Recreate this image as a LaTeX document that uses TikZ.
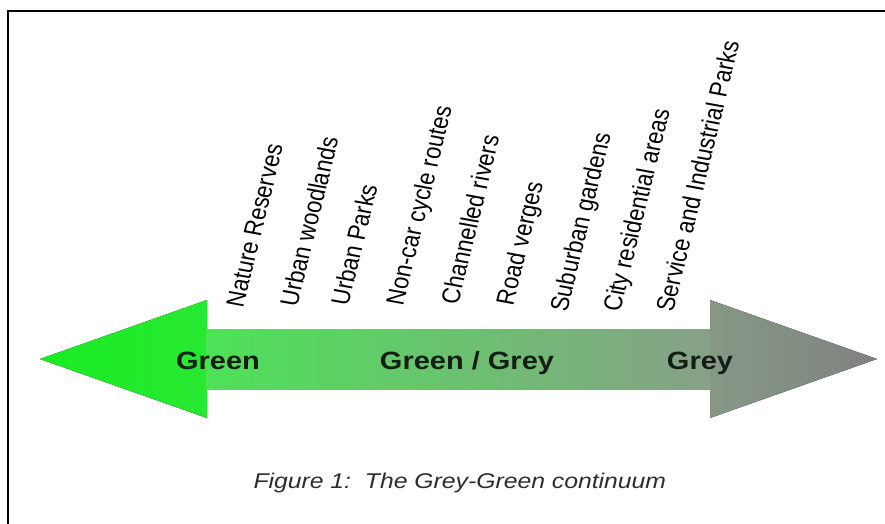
\documentclass[tikz,border=0pt]{standalone}
\usepackage{fontspec}
\setmainfont{Liberation Sans}
\newfontfamily\widefont[FakeStretch=1.16]{Liberation Sans}
\definecolor{headgreen}{RGB}{25,236,35}
\definecolor{headgreenb}{RGB}{40,232,50}
\definecolor{shaftgreen}{RGB}{78,226,88}
\definecolor{shaftmid}{RGB}{86,216,96}
\definecolor{shaftgrey}{RGB}{136,160,136}
\definecolor{tipgreyA}{RGB}{134,152,134}
\definecolor{tipgreyB}{RGB}{128,130,128}
\definecolor{captiongrey}{RGB}{45,45,45}

\tikzset{every picture/.style={line width=0.75pt}}
\tikzset{
  endlabel/.style={anchor=base, inner sep=0pt, text={rgb,255:red,20;green,30;blue,20},
    font=\widefont\bfseries\fontsize{18.75}{22}\selectfont},
  placelabel/.style={xscale=1.16, rotate=78, anchor=base west, inner sep=0pt,
    font=\fontsize{16.6}{19}\selectfont},
  captionlabel/.style={anchor=base west, inner sep=0pt, text=captiongrey,
    font=\widefont\itshape\fontsize{16}{19}\selectfont}
}

\begin{document}
\begin{tikzpicture}[x=0.75pt,y=0.75pt,yscale=-1,xscale=1]
\useasboundingbox (0,0) rectangle (885,524);

%Frame
\draw [line width=1.5]  (8,524) -- (8,11) -- (885,11) ;

%Arrow: left head
\fill [left color=headgreen, right color=headgreenb] (40,359) -- (207,300) -- (207,418) -- cycle ;
%Arrow: shaft
\fill [left color=shaftgreen, middle color=shaftmid, right color=shaftgrey] (206,329) rectangle (711,389) ;
%Arrow: right head
\fill [left color=tipgreyA, right color=tipgreyB] (710,300) -- (877,359) -- (710,418) -- cycle ;

% Text Node
\node (green) [endlabel] at (218,369) {Green};
% Text Node
\node (greengrey) [endlabel] at (467,369) {Green / Grey};
% Text Node
\node (grey) [endlabel] at (700,369) {Grey};

% Places along the continuum
\foreach \px/\py/\txt [count=\i] in {243/309/Nature Reserves, 297/308/Urban woodlands,
    348/307/Urban Parks, 403/307/Non-car cycle routes, 458/306/Channelled rivers,
    513/307/Road verges, 567/313/Suburban gardens, 620/313/City residential areas,
    673/313/Service and Industrial Parks}
  \node (place\i) [placelabel] at (\px,\py) {\txt};

% Text Node
\node (caption) [captionlabel] at (253,488) {Figure 1:\ \ The Grey-Green continuum};

\end{tikzpicture}
\end{document}
